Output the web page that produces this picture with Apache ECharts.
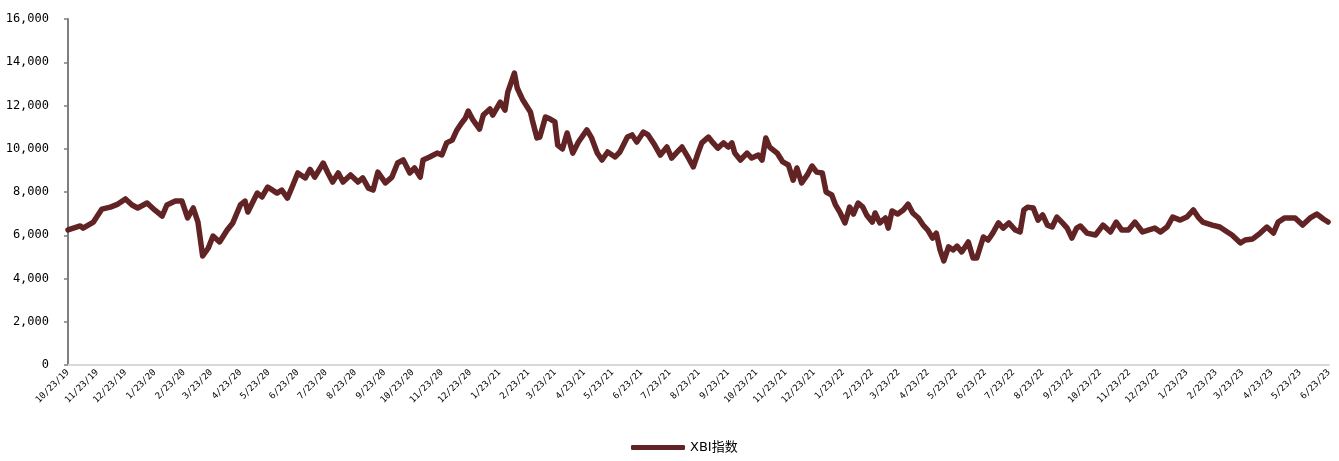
<!DOCTYPE html>
<html>
<head>
<meta charset="utf-8">
<script src="https://cdn.jsdelivr.net/npm/echarts@6/dist/echarts.min.js"></script>
<style>
html,body{margin:0;padding:0;background:#fff;}
#chart{width:1339px;height:461px;}
</style>
</head>
<body>
<div id="chart"></div>
<script>
const seriesName = 'XBI指数';
const dates = [
'2019-10-23','2019-11-05','2019-11-08','2019-11-19','2019-11-28','2019-12-07','2019-12-15','2019-12-23','2019-12-30',
'2020-01-05','2020-01-15','2020-01-23','2020-01-31','2020-02-05','2020-02-14','2020-02-21','2020-02-27','2020-03-04',
'2020-03-09','2020-03-14','2020-03-20','2020-03-25','2020-04-01','2020-04-09','2020-04-15','2020-04-23','2020-04-28',
'2020-05-01','2020-05-11','2020-05-16','2020-05-22','2020-06-01','2020-06-06','2020-06-12','2020-06-17','2020-06-23',
'2020-07-01','2020-07-06','2020-07-11','2020-07-20','2020-07-25','2020-07-30','2020-08-05','2020-08-10','2020-08-18',
'2020-08-26','2020-08-31','2020-09-06','2020-09-11','2020-09-16','2020-09-24','2020-10-01','2020-10-07','2020-10-13',
'2020-10-20','2020-10-25','2020-10-31','2020-11-03','2020-11-10','2020-11-18','2020-11-23','2020-11-28','2020-12-04',
'2020-12-09','2020-12-14','2020-12-18','2020-12-21','2020-12-26','2021-01-02','2021-01-06','2021-01-13','2021-01-16',
'2021-01-24','2021-01-29','2021-02-01','2021-02-08','2021-02-11','2021-02-17','2021-02-25','2021-02-27','2021-03-04',
'2021-03-07','2021-03-13','2021-03-18','2021-03-23','2021-03-26','2021-03-31','2021-04-05','2021-04-11','2021-04-17',
'2021-04-26','2021-05-01','2021-05-07','2021-05-12','2021-05-18','2021-05-26','2021-05-31','2021-06-08','2021-06-13',
'2021-06-18','2021-06-25','2021-06-30','2021-07-07','2021-07-13','2021-07-20','2021-07-25','2021-07-31','2021-08-05',
'2021-08-10','2021-08-17','2021-08-22','2021-08-26','2021-09-02','2021-09-07','2021-09-12','2021-09-18','2021-09-23',
'2021-09-27','2021-09-30','2021-10-06','2021-10-13','2021-10-18','2021-10-25','2021-10-29','2021-11-02','2021-11-06',
'2021-11-14','2021-11-20','2021-11-26','2021-12-01','2021-12-05','2021-12-10','2021-12-16','2021-12-21','2021-12-26',
'2022-01-01','2022-01-05','2022-01-11','2022-01-15','2022-01-20','2022-01-25','2022-01-30','2022-02-03','2022-02-08',
'2022-02-13','2022-02-17','2022-02-23','2022-02-26','2022-03-03','2022-03-09','2022-03-12','2022-03-16','2022-03-22',
'2022-03-28','2022-04-02','2022-04-07','2022-04-13','2022-04-18','2022-04-23','2022-04-28','2022-05-02','2022-05-06',
'2022-05-10','2022-05-15','2022-05-20','2022-05-24','2022-05-29','2022-06-05','2022-06-10','2022-06-14','2022-06-21',
'2022-06-26','2022-07-01','2022-07-07','2022-07-12','2022-07-18','2022-07-25','2022-07-30','2022-08-03','2022-08-07',
'2022-08-13','2022-08-18','2022-08-23','2022-08-28','2022-09-02','2022-09-07','2022-09-13','2022-09-18','2022-09-23',
'2022-09-28','2022-10-02','2022-10-09','2022-10-18','2022-10-26','2022-11-03','2022-11-09','2022-11-15','2022-11-22',
'2022-11-29','2022-12-07','2022-12-13','2022-12-20','2022-12-26','2023-01-02','2023-01-08','2023-01-16','2023-01-23',
'2023-01-30','2023-02-04','2023-02-09','2023-02-19','2023-02-27','2023-03-07','2023-03-12','2023-03-21','2023-03-26',
'2023-04-03','2023-04-11','2023-04-18','2023-04-25','2023-04-30','2023-05-07','2023-05-18','2023-05-26','2023-06-03',
'2023-06-10','2023-06-17','2023-06-22'
];
const values = [
6250,6430,6330,6610,7210,7300,7440,7680,7400,
7260,7490,7170,6890,7400,7580,7580,6800,7260,
6610,5040,5410,5965,5690,6240,6570,7400,7580,
7075,7950,7770,8230,7950,8090,7720,8230,8880,
8650,9050,8690,9340,8880,8460,8880,8460,8790,
8460,8650,8180,8090,8920,8420,8690,9340,9480,
8880,9110,8690,9480,9620,9800,9710,10270,10400,
10870,11190,11420,11740,11330,10910,11560,11840,11560,
12160,11790,12620,13500,12810,12250,11700,11330,10500,
10540,11470,11370,11240,10170,9990,10730,9800,10310,
10870,10500,9800,9480,9850,9620,9850,10540,10640,
10310,10770,10640,10170,9710,10080,9570,9850,10080,
9710,9160,9800,10270,10540,10270,10030,10270,10080,
10270,9800,9480,9800,9570,9710,9480,10500,10080,
9800,9390,9250,8550,9110,8420,8790,9200,8920,
8880,8000,7860,7400,7030,6570,7300,6980,7490,
7300,6940,6610,7030,6570,6800,6330,7120,6980,
7170,7440,7030,6800,6470,6240,5870,6100,5320,
4810,5460,5320,5500,5230,5690,4950,4950,5920,
5780,6100,6570,6330,6570,6240,6150,7170,7300,
7260,6700,6940,6470,6380,6840,6570,6330,5870,
6330,6430,6100,6010,6470,6150,6610,6240,6240,
6610,6150,6240,6330,6150,6380,6840,6700,6840,
7170,6840,6610,6470,6380,6150,6010,5640,5780,
5830,6100,6380,6100,6610,6800,6800,6470,6800,
6980,6750,6610
];
const tickLabels = [
'10/23/19','11/23/19','12/23/19','1/23/20','2/23/20','3/23/20','4/23/20','5/23/20','6/23/20','7/23/20','8/23/20','9/23/20',
'10/23/20','11/23/20','12/23/20','1/23/21','2/23/21','3/23/21','4/23/21','5/23/21','6/23/21','7/23/21','8/23/21','9/23/21',
'10/23/21','11/23/21','12/23/21','1/23/22','2/23/22','3/23/22','4/23/22','5/23/22','6/23/22','7/23/22','8/23/22','9/23/22',
'10/23/22','11/23/22','12/23/22','1/23/23','2/23/23','3/23/23','4/23/23','5/23/23','6/23/23'
];
const yTicks = [0,2000,4000,6000,8000,10000,12000,14000,16000];

function parseISO(s){const p=s.split('-').map(Number);return Date.UTC(p[0],p[1]-1,p[2]);}
function parseMDY(s){const p=s.split('/').map(Number);return Date.UTC(2000+p[2],p[0]-1,p[1]);}
const tickTimes = tickLabels.map(parseMDY);
const labelByTime = {};
tickTimes.forEach((t,i)=>{labelByTime[t]=tickLabels[i];});
const data = dates.map((d,i)=>[parseISO(d), values[i]]);

const chart = echarts.init(document.getElementById('chart'));
chart.setOption({
  animation:false,
  backgroundColor:'#ffffff',
  grid:{left:68,right:10,top:19,bottom:96,containLabel:false},
  xAxis:{
    type:'value',
    min:tickTimes[0],
    max:tickTimes[tickTimes.length-1],
    scale:true,
    splitLine:{show:false},
    axisLine:{show:true,lineStyle:{color:'#d9d9d9',width:2}},
    axisTick:{show:false},
    axisLabel:{
      customValues:tickTimes,
      rotate:45,
      margin:6,
      fontFamily:'DejaVu Sans Mono',
      fontSize:9,
      color:'#000',
      showMinLabel:true,
      showMaxLabel:true,
      hideOverlap:false,
      formatter:function(v){return labelByTime[v] !== undefined ? labelByTime[v] : '';}
    }
  },
  yAxis:{
    type:'value',
    min:yTicks[0],
    max:yTicks[yTicks.length-1],
    interval:2000,
    splitLine:{show:false},
    axisLine:{show:true,lineStyle:{color:'#7f7f7f',width:2}},
    axisTick:{show:true,length:4,lineStyle:{color:'#7f7f7f',width:1.5}},
    axisLabel:{
      margin:19,
      fontFamily:'DejaVu Sans Mono',
      fontSize:12,
      color:'#000',
      formatter:function(v){return v.toLocaleString('en-US');}
    }
  },
  legend:{
    bottom:2,
    left:626,
    itemWidth:54,
    itemHeight:5,
    itemGap:8,
    icon:'roundRect',
    textStyle:{fontFamily:'DejaVu Sans, Noto Sans CJK SC',fontSize:13,color:'#000'},
    data:[seriesName]
  },
  series:[{
    name:seriesName,
    type:'line',
    data:data,
    showSymbol:false,
    smooth:false,
    color:'#612323',
    lineStyle:{color:'#612323',width:5.5,join:'round',cap:'round'}
  }]
});
</script>
</body>
</html>
